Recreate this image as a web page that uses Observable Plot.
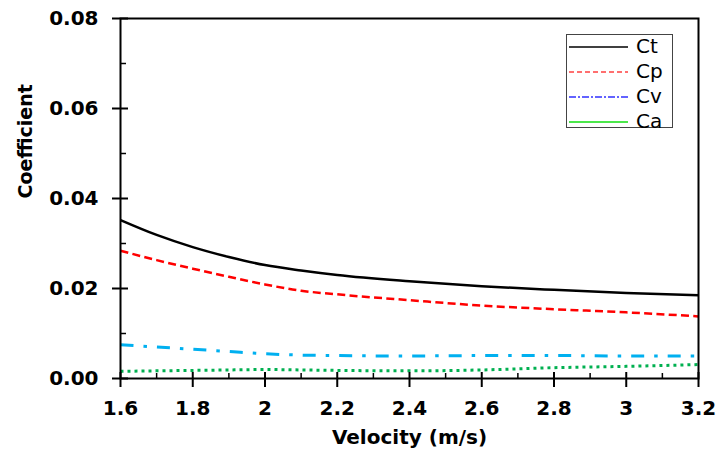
<!DOCTYPE html>
<html>
<head>
<meta charset="utf-8">
<script src="https://cdn.jsdelivr.net/npm/d3@7"></script>
<script src="https://cdn.jsdelivr.net/npm/@observablehq/plot@0.6"></script>
<style>
  html, body { margin: 0; padding: 0; background: #fff; }
  #wrap { position: relative; width: 718px; height: 452px; }
  #legend { position: absolute; left: 566px; top: 34px; width: 107px; height: 94px;
            border: 1.5px solid #444; background: #fff; box-sizing: border-box; }
  #legend svg { overflow: visible; display: block; }
</style>
</head>
<body>
<div id="wrap"><div id="chart"></div><div id="legend"></div></div>
<script>
// Data
const velocity = [1.6, 1.7, 1.8, 1.9, 2.0, 2.1, 2.2, 2.4, 2.6, 2.8, 3.0, 3.2];
const ct = [0.0352, 0.0319, 0.0292, 0.0270, 0.0252, 0.0240, 0.0230, 0.0216, 0.0205, 0.0197, 0.0190, 0.0185];
const cp = [0.0284, 0.0263, 0.0244, 0.0226, 0.0209, 0.0195, 0.0187, 0.0174, 0.0162, 0.0154, 0.0147, 0.0138];
const cv = [0.0075, 0.0070, 0.0065, 0.0060, 0.0055, 0.0052, 0.0051, 0.0050, 0.0051, 0.0051, 0.0050, 0.0050];
const ca = [0.0016, 0.0017, 0.0018, 0.0019, 0.0020, 0.0019, 0.0018, 0.0017, 0.0019, 0.0024, 0.0027, 0.0031];
const seriesNames = ["Ct", "Cp", "Cv", "Ca"];
const xMajorTicks = [1.6, 1.8, 2.0, 2.2, 2.4, 2.6, 2.8, 3.0, 3.2];
const xMinorTicks = [1.7, 1.9, 2.1, 2.3, 2.5, 2.7, 2.9, 3.1];
const yMajorTicks = [0, 0.02, 0.04, 0.06, 0.08];
const yMinorTicks = [0.01, 0.03, 0.05, 0.07];
const xLabel = "Velocity (m/s)";
const yLabel = "Coefficient";

const valuesBySeries = {Ct: ct, Cp: cp, Cv: cv, Ca: ca};
const styles = {
  Ct: {stroke: "#000000", strokeWidth: 2.5, strokeDasharray: null, legendStroke: "#000000", legendDash: null, legendWidth: 1.5},
  Cp: {stroke: "#ff0000", strokeWidth: 2.5, strokeDasharray: "8,4.3", legendStroke: "#ff4040", legendDash: "5,3", legendWidth: 1.5},
  Cv: {stroke: "#00b0f0", strokeWidth: 3, strokeDasharray: "13,10,3.5,10", legendStroke: "#3030ff", legendDash: "7,2,2,2", legendWidth: 1.5},
  Ca: {stroke: "#00b050", strokeWidth: 3, strokeDasharray: "3,4", legendStroke: "#10e010", legendDash: null, legendWidth: 1.5}
};

const rows = seriesNames.flatMap(name =>
  velocity.map((v, i) => ({series: name, x: v, y: valuesBySeries[name][i]})));

const lineMarks = seriesNames.map(name => Plot.line(rows.filter(d => d.series === name), {
  x: "x", y: "y", curve: "monotone-x",
  stroke: styles[name].stroke, strokeWidth: styles[name].strokeWidth,
  strokeDasharray: styles[name].strokeDasharray, strokeLinecap: "butt"
}));

const chart = Plot.plot({
  width: 718, height: 452,
  marginLeft: 120, marginRight: 20, marginTop: 18, marginBottom: 74,
  style: {fontFamily: "DejaVu Sans, Arial, sans-serif", fontSize: "20px", fontWeight: "bold", color: "#000", background: "#fff", overflow: "visible"},
  x: {domain: [1.6, 3.2]},
  y: {domain: [0, 0.08]},
  marks: [
    ...lineMarks,
    Plot.frame({stroke: "#000", strokeWidth: 2}),
    Plot.axisX(xMajorTicks, {tickSize: 9, tickPadding: 13, tickFormat: d3.format("~g"), strokeWidth: 2, label: null, fontSize: 20}),
    Plot.axisX(xMajorTicks, {tickSize: 6, dy: -6, text: null, label: null, strokeWidth: 2}),
    Plot.axisX(xMinorTicks, {tickSize: 5, dy: -5, text: null, label: null, strokeWidth: 1.5}),
    Plot.axisY(yMajorTicks, {tickSize: 8, tickPadding: 14, tickFormat: d3.format(".2f"), strokeWidth: 2, label: null, fontSize: 20}),
    Plot.axisY(yMajorTicks, {tickSize: 8, dx: 8, text: null, label: null, strokeWidth: 2}),
    Plot.axisY(yMinorTicks, {tickSize: 6, dx: 6, text: null, label: null, strokeWidth: 1.5}),
    Plot.text([xLabel], {frameAnchor: "bottom", dy: 59, text: d => d, fontSize: 20, fontWeight: "bold", lineAnchor: "middle"}),
    Plot.text([yLabel], {frameAnchor: "left", dx: -95, rotate: -90, text: d => d, fontSize: 19, fontWeight: "bold", lineAnchor: "middle"})
  ]
});
document.getElementById("chart").appendChild(chart);

// Legend
const ns = "http://www.w3.org/2000/svg";
const lsvg = document.createElementNS(ns, "svg");
lsvg.setAttribute("width", 104); lsvg.setAttribute("height", 91);
seriesNames.forEach((name, i) => {
  const yy = 12 + i * 25;
  const ln = document.createElementNS(ns, "line");
  ln.setAttribute("x1", 2); ln.setAttribute("x2", 61);
  ln.setAttribute("y1", yy); ln.setAttribute("y2", yy);
  ln.setAttribute("stroke", styles[name].legendStroke);
  ln.setAttribute("stroke-width", styles[name].legendWidth);
  if (styles[name].legendDash) ln.setAttribute("stroke-dasharray", styles[name].legendDash);
  lsvg.appendChild(ln);
  const t = document.createElementNS(ns, "text");
  t.setAttribute("x", 69); t.setAttribute("y", yy - 1);
  t.setAttribute("dy", "0.36em");
  t.setAttribute("font-family", "DejaVu Sans, Arial, sans-serif");
  t.setAttribute("font-size", 20);
  t.setAttribute("fill", "#000");
  t.textContent = name;
  lsvg.appendChild(t);
});
document.getElementById("legend").appendChild(lsvg);
</script>
</body>
</html>
